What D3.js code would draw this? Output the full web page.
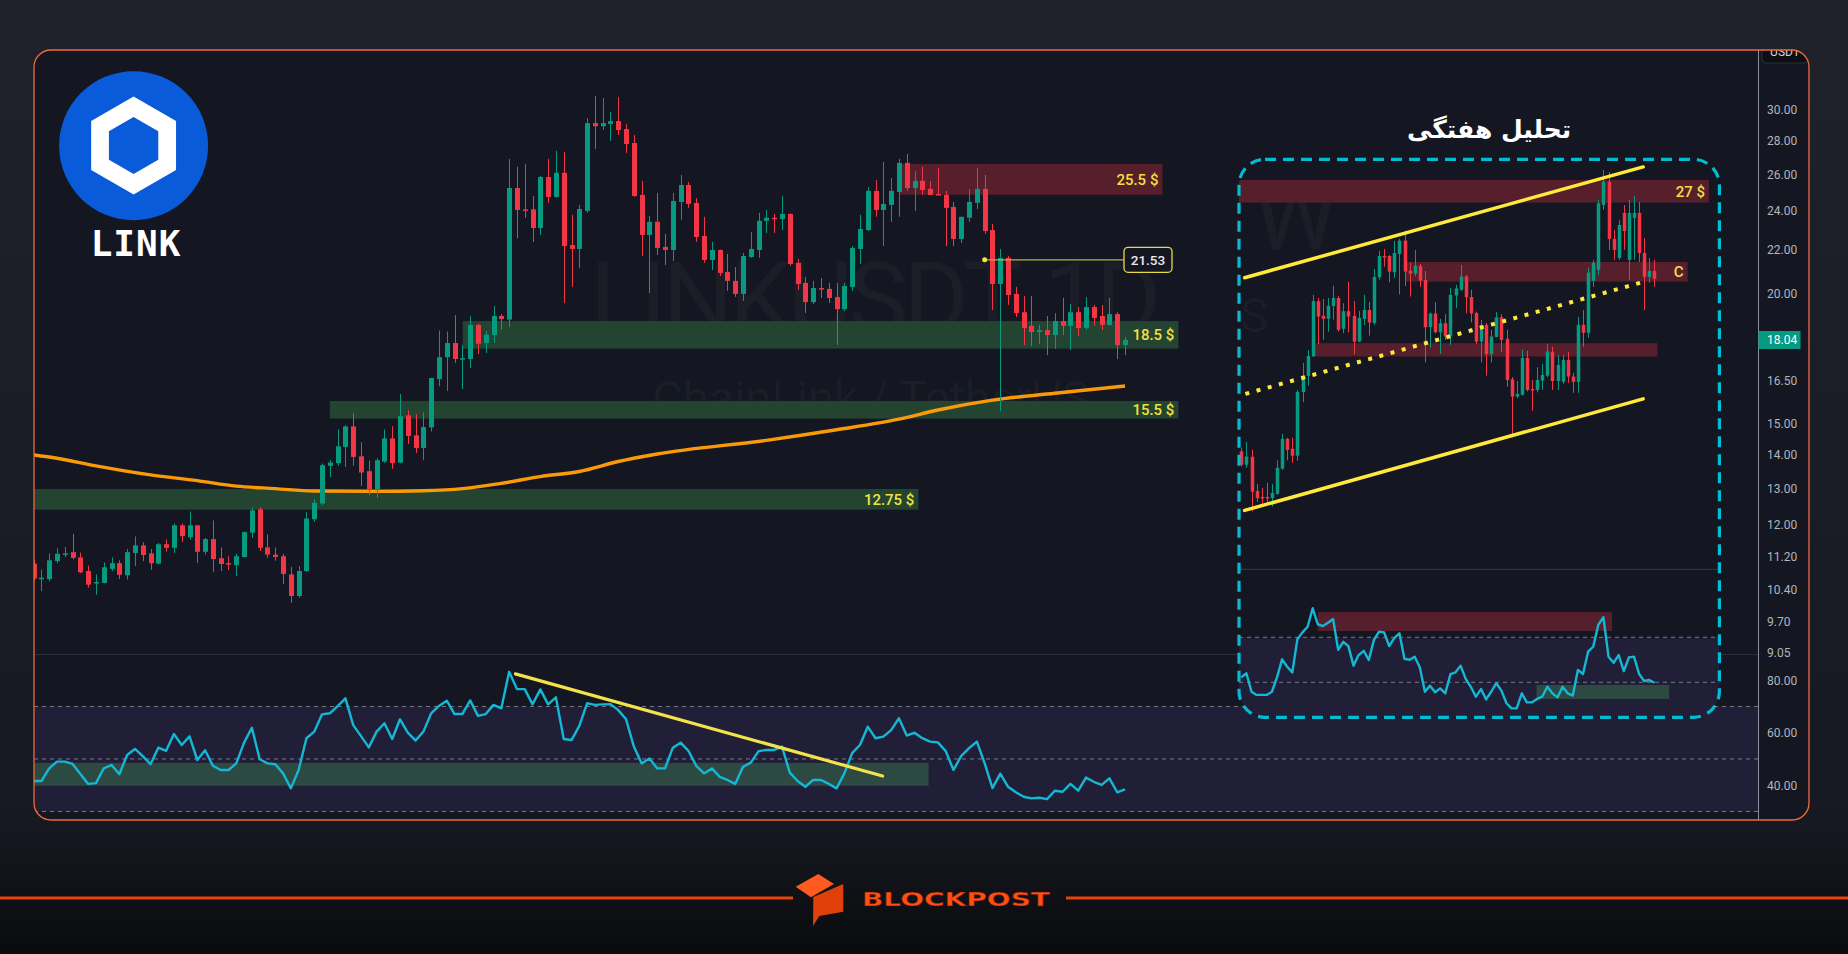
<!DOCTYPE html>
<html>
<head>
<meta charset="utf-8">
<script src="https://cdn.jsdelivr.net/npm/d3@7"></script>
<style>
  html, body { margin: 0; padding: 0; background: #1e2129; overflow: hidden; }
  svg { display: block; }
</style>
</head>
<body>
<div id="chart"></div>
<script>
const W = 1848, H = 954;
const UP = '#089981', DOWN = '#f23645';

// daily candles: [open, high, low, close]
const mainCandles = [
  [11.02,11.10,10.62,10.66],[10.66,10.88,10.37,10.68],[10.65,11.27,10.60,11.10],[11.08,11.40,11.03,11.26],
  [11.24,11.43,11.18,11.27],[11.30,11.77,11.12,11.16],[11.17,11.29,10.79,10.81],[10.84,10.97,10.45,10.52],
  [10.56,10.76,10.29,10.58],[10.56,11.05,10.55,10.93],[10.89,11.17,10.84,11.03],[11.03,11.10,10.65,10.75],
  [10.74,11.38,10.64,11.30],[11.28,11.70,10.96,11.47],[11.47,11.55,11.08,11.23],[11.27,11.38,10.87,11.03],
  [11.02,11.53,11.00,11.50],[11.50,11.62,11.31,11.41],[11.41,12.04,11.28,11.99],[11.99,12.04,11.56,11.71],
  [11.68,12.36,11.62,11.99],[11.99,12.00,11.04,11.31],[11.31,11.66,11.24,11.63],[11.63,12.12,10.82,11.13],
  [11.15,11.42,10.84,11.01],[11.03,11.20,10.86,11.01],[10.98,11.26,10.72,11.20],[11.18,11.83,11.17,11.81],
  [11.80,12.48,11.66,12.39],[12.42,12.48,11.33,11.41],[11.42,11.75,11.16,11.24],[11.24,11.42,11.09,11.18],
  [11.20,11.26,10.53,10.77],[10.76,10.94,10.11,10.26],[10.26,10.96,10.22,10.84],[10.84,12.34,10.82,12.17],
  [12.15,12.70,12.08,12.60],[12.58,13.74,12.54,13.69],[13.67,13.84,13.33,13.77],[13.75,14.82,13.67,14.27],
  [14.25,14.95,13.64,14.91],[14.91,15.35,13.67,13.94],[13.96,14.40,13.08,13.47],[13.51,13.83,12.82,12.98],
  [12.98,13.90,12.74,13.84],[13.80,14.81,13.76,14.52],[14.52,14.92,13.58,13.75],[13.77,16.01,13.75,15.25],
  [15.28,15.45,14.34,14.60],[14.62,15.32,14.06,14.22],[14.22,15.38,13.84,14.89],[14.88,16.60,14.74,16.59],
  [16.55,18.42,16.29,17.37],[17.37,18.38,16.12,17.92],[17.92,19.06,17.15,17.30],[17.29,17.84,16.19,17.33],
  [17.30,19.02,16.96,18.65],[18.65,18.69,17.49,17.89],[17.92,18.40,17.53,18.25],[18.24,19.44,17.92,19.02],
  [19.02,19.10,18.44,18.89],[18.87,26.89,18.57,25.22],[25.22,26.43,22.58,24.03],[24.06,26.60,23.61,24.03],
  [24.06,24.78,22.39,23.09],[23.09,25.90,22.74,25.84],[25.84,26.89,24.41,24.73],[24.73,27.37,24.68,26.08],
  [26.08,27.31,19.57,22.19],[22.24,23.77,20.28,22.05],[22.05,24.30,21.14,24.08],[23.98,29.43,23.88,29.10],
  [29.10,30.89,27.49,28.90],[28.90,30.75,28.66,29.10],[29.04,29.82,27.98,29.23],[29.23,30.82,28.35,28.66],
  [28.72,29.03,27.25,27.79],[27.85,28.35,24.73,24.78],[24.84,25.62,21.71,22.74],[22.74,23.72,20.01,23.41],
  [23.41,24.95,21.76,22.10],[22.15,22.79,21.28,22.00],[22.00,24.95,21.47,24.51],[24.46,25.96,23.51,25.39],
  [25.39,25.56,24.14,24.35],[24.40,24.67,22.39,22.64],[22.69,23.67,21.38,21.52],[21.52,22.39,21.05,22.00],
  [22.00,22.02,20.77,20.91],[20.96,21.81,20.10,20.55],[20.55,21.19,19.84,19.97],[19.97,21.86,19.66,21.71],
  [21.66,22.89,21.62,22.05],[22.00,23.88,21.62,23.46],[23.46,24.03,22.84,23.62],[23.62,23.82,22.84,23.56],
  [23.56,24.78,22.99,23.82],[23.82,23.84,21.24,21.33],[21.38,21.57,20.14,20.41],[20.46,20.73,19.14,19.61],
  [19.61,20.55,19.53,20.23],[20.23,20.68,19.79,20.19],[20.19,20.46,19.57,19.79],[19.83,20.46,17.84,19.31],
  [19.31,20.46,19.23,20.32],[20.28,22.19,20.10,22.10],[22.05,23.77,21.33,23.04],[22.99,25.28,22.94,25.06],
  [25.06,25.67,23.67,24.03],[24.03,26.72,22.19,24.35],[24.30,25.79,23.41,25.06],[25.00,26.89,23.67,26.66],
  [26.66,27.18,25.06,25.22],[25.22,26.19,23.98,25.62],[25.62,26.43,24.84,25.11],[25.17,25.62,24.84,24.84],
  [24.89,26.37,24.84,24.84],[24.84,25.06,22.19,24.14],[24.19,24.46,22.19,22.54],[22.54,23.67,22.34,23.67],
  [23.62,25.17,23.41,24.46],[24.41,26.37,24.08,25.17],[25.17,25.96,22.79,22.94],[22.99,23.30,19.27,20.41],
  [20.41,22.05,15.42,21.62],[21.62,21.71,19.49,19.92],[19.97,20.28,18.98,19.14],[19.18,19.88,17.84,18.52],
  [18.61,19.88,17.80,18.36],[18.36,18.65,17.88,18.44],[18.44,19.02,17.45,18.24],[18.24,19.14,17.69,18.81],
  [18.81,19.79,18.24,18.61],[18.61,19.53,17.65,19.18],[19.18,19.40,18.20,18.52],[18.52,19.83,18.44,19.40],
  [19.40,19.49,18.61,18.94],[19.02,19.49,18.44,18.65],[18.65,19.79,18.61,19.10],[19.10,19.18,17.30,17.84],
  [17.84,18.16,17.45,18.04]
];

// 200 MA read at a few candle positions: [candle index, price]
const maPoints = [[0,14.0],[3,13.9],[8,13.67],[15,13.4],[21,13.23],[26,13.07],[31,13.0],[36,12.93],
  [44,12.92],[50,12.94],[55,13.0],[60,13.15],[65,13.35],[70,13.5],[75,13.8],[80,14.03],[94,14.46],
  [103,14.8],[111,15.15],[116,15.46],[123,15.8],[131,16.04],[140,16.3]];

const mainRsi = [41.6,41.6,46.4,49.0,49.0,48.1,44.3,40.5,40.8,46.4,47.7,44.2,51.5,53.8,51.1,48.0,54.3,53.1,
  59.5,55.3,58.6,49.6,53.3,47.4,45.8,45.8,48.3,56.2,61.9,49.9,48.3,48.0,44.5,38.8,45.8,57.9,60.4,67.0,67.4,
  70.1,73.1,62.9,58.7,54.4,60.4,63.6,57.6,65.1,60.0,57.0,60.4,67.4,70.2,72.2,67.1,67.1,72.3,66.4,67.1,70.6,
  69.3,83.2,76.6,76.6,70.8,76.5,70.8,73.5,57.6,57.2,62.6,71.2,70.6,70.8,70.9,68.6,65.1,54.7,48.3,50.2,46.4,
  46.4,54.3,56.2,53.1,47.4,44.5,46.4,43.2,42.0,40.5,47.0,48.6,53.0,53.4,53.4,54.7,44.8,41.6,39.4,42.0,42.0,
  40.5,38.8,44.5,52.2,55.3,62.3,57.9,58.5,61.0,65.5,58.9,60.0,57.9,56.6,56.3,53.0,45.8,51.2,54.1,56.6,48.3,
  38.9,44.4,39.4,37.3,35.6,35.0,35.2,34.7,37.9,37.5,40.5,37.9,42.9,41.3,40.1,42.6,37.3,38.4];

const mainZones = [
  { label: '25.5 $', hi: 26.59, lo: 24.85, from: 111.1, to: 144.8, kind: 'res' },
  { label: '18.5 $', hi: 18.81, lo: 17.70, from: 55.05, to: 146.85, kind: 'sup' },
  { label: '15.5 $', hi: 15.77, lo: 15.17, from: 38.0, to: 146.85, kind: 'sup' },
  { label: '12.75 $', hi: 12.99, lo: 12.41, from: 0, to: 113.5, kind: 'sup' }
];
const priceMark = { from: 122, price: 21.53 };
const lastPrice = 18.04;
const priceTicks = [30, 28, 26, 24, 22, 20, 16.5, 15, 14, 13, 12, 11.2, 10.4, 9.7, 9.05];
const rsiTicks = [80, 60, 40];
const rsiLevels = [70, 50, 30];
const rsiZone = { hi: 48.5, lo: 39.8, from: 0, to: 114.8 };
const rsiTrend = [[61.8, 82.4], [108.9, 43.5]];

// weekly inset
const insetCandles = [
  [11.97,12.11,11.42,11.48],[11.48,12.33,11.37,11.78],[11.77,12.03,9.92,10.55],[10.57,10.81,10.22,10.34],
  [10.38,10.68,10.07,10.35],[10.38,10.85,10.12,10.35],[10.34,10.81,10.07,10.51],[10.48,11.64,10.45,11.37],
  [11.34,12.64,11.30,12.45],[12.45,12.49,11.64,12.03],[12.07,12.49,11.55,11.81],[11.81,14.51,11.62,14.42],
  [14.41,15.79,13.96,15.17],[15.16,16.45,14.71,16.14],[16.12,19.54,16.09,19.16],[19.16,19.35,16.74,18.26],
  [18.30,19.29,16.97,18.13],[18.13,19.35,17.41,18.89],[18.87,20.10,18.07,19.35],[19.35,19.48,17.41,17.51],
  [17.57,19.04,17.33,18.57],[18.57,20.35,17.37,18.26],[18.30,19.17,16.22,16.88],[16.88,18.58,16.85,18.18],
  [18.13,19.54,17.78,18.64],[18.64,19.12,17.20,17.92],[17.89,21.19,17.79,20.67],[20.65,22.42,20.48,22.07],
  [22.07,22.56,21.35,22.00],[22.07,22.14,20.33,21.02],[20.98,23.14,20.61,22.28],[22.21,23.28,19.57,23.16],
  [23.16,23.88,20.09,21.02],[21.08,21.61,19.44,20.89],[20.89,22.49,20.72,21.42],[21.40,21.53,20.04,20.43],
  [20.48,21.06,15.82,17.66],[17.66,18.49,16.56,18.43],[18.43,19.10,17.33,17.38],[17.38,18.13,16.24,17.88],
  [17.88,18.39,16.97,17.16],[17.16,19.97,16.71,19.54],[19.50,20.16,18.74,19.94],[19.85,21.46,19.79,20.70],
  [20.70,20.80,18.43,19.39],[19.41,19.85,17.93,18.44],[18.46,18.54,16.74,16.88],[16.88,18.07,15.82,17.79],
  [17.79,17.89,15.17,16.23],[16.23,17.51,15.82,17.15],[17.13,18.51,17.11,18.22],[18.22,18.39,16.34,16.97],
  [17.03,17.51,14.66,14.97],[15.00,15.11,12.51,14.21],[14.21,14.92,14.14,14.33],[14.29,16.45,14.25,16.04],
  [16.04,16.40,14.44,14.51],[14.55,14.97,13.59,14.51],[14.51,15.58,14.40,14.97],[14.94,15.74,14.51,15.21],
  [15.17,16.76,15.10,16.37],[16.35,16.61,14.51,14.92],[14.92,16.19,14.51,15.69],[14.88,16.19,14.79,15.94],
  [15.94,16.35,14.83,15.13],[15.13,15.31,14.38,14.88],[14.88,18.24,14.38,17.79],[17.79,18.64,16.61,17.35],
  [17.35,21.29,17.08,20.95],[20.42,21.80,20.04,21.61],[21.13,26.30,20.80,26.04],[25.89,28.89,25.49,27.84],
  [27.84,28.71,22.49,23.28],[23.28,23.94,21.80,22.49],[21.94,24.71,21.80,24.32],[25.26,25.89,22.49,23.86],
  [21.80,26.30,20.48,25.26],[24.87,26.64,21.80,25.26],[25.26,26.14,21.66,22.28],[22.28,23.35,18.64,20.67],
  [20.67,21.94,20.29,21.06],[21.06,21.80,20.04,20.55]
];
const insetRsi = [52.2,54.0,45.8,44.4,44.4,44.4,45.8,52.2,60.2,56.9,54.4,69.2,72.2,74.7,82.9,75.8,75.0,76.5,
  78.1,64.4,68.0,66.1,57.4,62.1,64.0,59.9,68.8,72.5,72.2,66.1,69.6,71.8,60.4,60.0,61.4,56.7,45.8,48.5,45.6,
  47.3,45.1,53.6,54.4,57.4,51.5,48.0,43.6,47.0,42.4,45.8,49.6,46.3,40.7,38.4,38.4,45.1,41.1,41.1,42.6,43.6,
  48.0,45.1,43.3,48.0,45.1,44.1,55.5,53.7,63.6,65.8,75.5,78.9,61.4,58.7,62.1,55.0,61.1,61.4,53.7,50.6,51.0,49.8];
const insetZones = [
  { label: '27 $', hi: 28.0, lo: 26.09, from: -0.45, to: 91.7 },
  { label: 'C', hi: 21.66, lo: 20.37, from: 32.1, to: 87.5 },
  { label: '', hi: 16.80, lo: 16.11, from: 14.0, to: 81.6 }
];
const insetChannel = {
  upper: [[0.65, 20.62], [78.8, 29.17]],
  lower: [[0.65, 9.95], [78.8, 14.11]],
  middle: [[0.8, 14.33], [78.6, 20.33]]
};
const insetRsiZones = [
  { hi: 81.2, lo: 72.8, from: 15.0, to: 72.7, kind: 'res' },
  { hi: 48.8, lo: 42.6, from: 57.9, to: 83.9, kind: 'sup' }
];
const insetTitle = 'تحلیل هفتگی';

// ---------- drawing ----------
const svg = d3.select('#chart').append('svg').attr('width', W).attr('height', H);
const defs = svg.append('defs');

const bgGrad = defs.append('linearGradient').attr('id', 'bgGrad')
  .attr('x1', 0).attr('y1', 0).attr('x2', 0).attr('y2', 1);
bgGrad.append('stop').attr('offset', '0%').attr('stop-color', '#1f222b');
bgGrad.append('stop').attr('offset', '86%').attr('stop-color', '#161921');
bgGrad.append('stop').attr('offset', '100%').attr('stop-color', '#0a0b0d');
svg.append('rect').attr('width', W).attr('height', H).attr('fill', 'url(#bgGrad)');

const frame = { x: 34, y: 50, w: 1775, h: 770, r: 17 };
defs.append('clipPath').attr('id', 'frameClip').append('rect')
  .attr('x', frame.x).attr('y', frame.y).attr('width', frame.w).attr('height', frame.h).attr('rx', frame.r);
svg.append('rect')
  .attr('x', frame.x).attr('y', frame.y).attr('width', frame.w).attr('height', frame.h).attr('rx', frame.r)
  .attr('fill', '#141721');

const root = svg.append('g').attr('clip-path', 'url(#frameClip)');

const axisX = 1758.5;
const x = d3.scaleLinear().domain([0, 140]).range([33.6, 1125]);
const y = d3.scaleLog().domain([30, 9.05]).range([109.3, 652.9]);
const rsiY = d3.scaleLinear().domain([40, 80]).range([785.2, 680.2]);

// watermark
root.append('text').attr('x', 590).attr('y', 333).attr('textLength', 571)
  .attr('font-family', 'Roboto, sans-serif').attr('font-size', 100)
  .attr('fill', '#ffffff').attr('fill-opacity', 0.03).text('LINKUSDT, 1D');
root.append('text').attr('x', 652).attr('y', 415).attr('textLength', 438)
  .attr('font-family', 'Roboto, sans-serif').attr('font-size', 48)
  .attr('fill', '#ffffff').attr('fill-opacity', 0.03).text('ChainLink / TetherUS');

// zones
const zoneG = root.append('g');
zoneG.selectAll('rect').data(mainZones).join('rect')
  .attr('x', d => x(d.from)).attr('width', d => x(d.to) - x(d.from))
  .attr('y', d => y(d.hi)).attr('height', d => y(d.lo) - y(d.hi))
  .attr('fill', d => d.kind === 'res' ? '#561f2b' : '#234430');

// moving average
root.append('path').datum(maPoints)
  .attr('d', d3.line().x(d => x(d[0])).y(d => y(d[1])).curve(d3.curveMonotoneX))
  .attr('fill', 'none').attr('stroke', '#fb9a08').attr('stroke-width', 3.4);

function drawCandles(g, data, xs, ys, bodyW) {
  const c = g.selectAll('g').data(data).join('g');
  const col = d => d[3] >= d[0] ? UP : DOWN;
  c.append('line')
    .attr('x1', (d, i) => Math.round(xs(i)) + 0.5).attr('x2', (d, i) => Math.round(xs(i)) + 0.5)
    .attr('y1', d => ys(d[1])).attr('y2', d => ys(d[2]))
    .attr('stroke', col).attr('stroke-width', 1);
  c.append('rect')
    .attr('x', (d, i) => Math.round(xs(i)) + 0.5 - bodyW / 2).attr('width', bodyW)
    .attr('y', d => ys(Math.max(d[0], d[3])))
    .attr('height', d => Math.max(1.5, Math.abs(ys(d[0]) - ys(d[3]))))
    .attr('fill', col);
}
drawCandles(root.append('g'), mainCandles, x, y, 5);

// 21.53 marker
const markY = y(priceMark.price);
root.append('line').attr('x1', x(priceMark.from)).attr('x2', 1124).attr('y1', markY).attr('y2', markY)
  .attr('stroke', '#b9b23a').attr('stroke-width', 1.2);
root.append('circle').attr('cx', x(priceMark.from)).attr('cy', markY).attr('r', 2.5).attr('fill', '#f5e63c');
root.append('rect').attr('x', 1124).attr('y', markY - 12.5).attr('width', 48).attr('height', 25).attr('rx', 4)
  .attr('fill', '#141721').attr('stroke', '#e8d94a').attr('stroke-width', 1.3);
root.append('text').attr('x', 1148).attr('y', markY).attr('dy', '0.35em').attr('text-anchor', 'middle')
  .attr('font-family', 'Roboto, sans-serif').attr('font-size', 13.5).attr('font-weight', 500)
  .attr('fill', '#e8eaee').text(priceMark.price.toFixed(2));

// zone labels
zoneG.selectAll('text').data(mainZones).join('text')
  .attr('x', d => x(d.to) - 4).attr('y', d => (y(d.hi) + y(d.lo)) / 2).attr('dy', '0.36em')
  .attr('text-anchor', 'end').attr('font-family', 'Roboto, sans-serif').attr('font-size', 15)
  .attr('font-weight', 500).attr('fill', '#f4e03e').text(d => d.label);

// RSI pane
const paneTop = 654.5;
root.append('line').attr('x1', frame.x).attr('x2', axisX).attr('y1', paneTop).attr('y2', paneTop)
  .attr('stroke', '#2b2f3a').attr('stroke-width', 1);
root.append('rect').attr('x', frame.x).attr('width', axisX - frame.x)
  .attr('y', rsiY(70)).attr('height', rsiY(30) - rsiY(70)).attr('fill', '#211f37');
root.selectAll('.rsiLevel').data(rsiLevels).join('line').attr('class', 'rsiLevel')
  .attr('x1', frame.x).attr('x2', axisX).attr('y1', d => rsiY(d)).attr('y2', d => rsiY(d))
  .attr('stroke', '#787b86').attr('stroke-dasharray', '4 4').attr('stroke-width', 1);
root.append('rect').attr('x', x(rsiZone.from)).attr('width', x(rsiZone.to) - x(rsiZone.from))
  .attr('y', rsiY(rsiZone.hi)).attr('height', rsiY(rsiZone.lo) - rsiY(rsiZone.hi)).attr('fill', '#2c4a42');
root.append('path').datum(mainRsi)
  .attr('d', d3.line().x((d, i) => x(i)).y(d => rsiY(d)))
  .attr('fill', 'none').attr('stroke', '#14b8d4').attr('stroke-width', 2.4).attr('stroke-linejoin', 'round');
root.append('line')
  .attr('x1', x(rsiTrend[0][0])).attr('y1', rsiY(rsiTrend[0][1]))
  .attr('x2', x(rsiTrend[1][0])).attr('y2', rsiY(rsiTrend[1][1]))
  .attr('stroke', '#f5e24a').attr('stroke-width', 3.2).attr('stroke-linecap', 'round');

// price axis
root.append('line').attr('x1', axisX).attr('x2', axisX).attr('y1', frame.y).attr('y2', frame.y + frame.h)
  .attr('stroke', '#8c8f99').attr('stroke-width', 1);
const axisG = root.append('g').attr('font-family', 'Roboto, sans-serif').attr('font-size', 12).attr('fill', '#b2b5be');
axisG.selectAll('.pt').data(priceTicks).join('text').attr('class', 'pt')
  .attr('x', 1767).attr('y', d => y(d)).attr('dy', '0.36em').text(d => d.toFixed(2));
axisG.selectAll('.rt').data(rsiTicks).join('text').attr('class', 'rt')
  .attr('x', 1767).attr('y', d => rsiY(d)).attr('dy', '0.36em').text(d => d.toFixed(2));
root.append('rect').attr('x', axisX).attr('y', y(lastPrice) - 9).attr('width', 42).attr('height', 18)
  .attr('fill', UP);
root.append('text').attr('x', 1767).attr('y', y(lastPrice)).attr('dy', '0.36em')
  .attr('font-family', 'Roboto, sans-serif').attr('font-size', 12).attr('fill', '#ffffff').text(lastPrice.toFixed(2));
root.append('rect').attr('x', 1762).attr('y', 38).attr('width', 46).attr('height', 25).attr('rx', 4)
  .attr('fill', '#0d0e12').attr('stroke', '#2a2e39');
root.append('text').attr('x', 1785).attr('y', 55.5).attr('text-anchor', 'middle')
  .attr('font-family', 'Roboto, sans-serif').attr('font-size', 12).attr('fill', '#d1d4dc').text('USDT');

// LINK logo
const logo = root.append('g');
logo.append('circle').attr('cx', 133.6).attr('cy', 145.7).attr('r', 74.5).attr('fill', '#0a5bd9');
function hexPath(cx, cy, r) {
  return d3.range(6).map(k => {
    const a = Math.PI / 2 + k * Math.PI / 3;
    return [cx + r * Math.cos(a), cy - r * Math.sin(a)];
  }).map((p, k) => (k ? 'L' : 'M') + p[0].toFixed(2) + ',' + p[1].toFixed(2)).join('') + 'Z';
}
logo.append('path').attr('d', hexPath(133.6, 145.5, 49) + hexPath(133.6, 145.5, 28.5))
  .attr('fill', '#ffffff').attr('fill-rule', 'evenodd');
logo.append('text').attr('x', 136).attr('y', 256).attr('text-anchor', 'middle')
  .attr('font-family', "'DejaVu Sans Mono', monospace").attr('font-weight', 'bold').attr('font-size', 36)
  .attr('letter-spacing', 1).attr('fill', '#ffffff').text('LINK');

// ---------- weekly inset ----------
const box = { x: 1239, y: 159.3, w: 480.4, h: 558, r: 26 };
defs.append('clipPath').attr('id', 'insetClip').append('rect')
  .attr('x', box.x).attr('y', box.y).attr('width', box.w).attr('height', box.h).attr('rx', box.r);
const inset = root.append('g');
inset.append('rect').attr('x', box.x).attr('y', box.y).attr('width', box.w).attr('height', box.h).attr('rx', box.r)
  .attr('fill', '#141721');
const ig = inset.append('g').attr('clip-path', 'url(#insetClip)');
const ix = d3.scaleLinear().domain([0, 81]).range([1241.3, 1654.4]);
const iy = d3.scaleLog().domain([28.0, 10.28]).range([180, 500]);
const irsiY = d3.scaleLinear().domain([50, 70]).range([682.3, 637.3]);

ig.append('text').attr('x', 1253).attr('y', 250).attr('font-family', 'Roboto, sans-serif').attr('font-size', 96)
  .attr('fill', '#ffffff').attr('fill-opacity', 0.03).text('W');
ig.append('text').attr('x', 1240).attr('y', 332).attr('font-family', 'Roboto, sans-serif').attr('font-size', 48)
  .attr('fill', '#ffffff').attr('fill-opacity', 0.03).text('S');

ig.selectAll('.iz').data(insetZones).join('rect').attr('class', 'iz')
  .attr('x', d => ix(d.from)).attr('width', d => ix(d.to) - ix(d.from))
  .attr('y', d => iy(d.hi)).attr('height', d => iy(d.lo) - iy(d.hi)).attr('fill', '#561f2b');
drawCandles(ig.append('g'), insetCandles, ix, iy, 3.5);
ig.selectAll('.izl').data(insetZones.filter(d => d.label)).join('text').attr('class', 'izl')
  .attr('x', d => ix(d.to) - 4).attr('y', d => (iy(d.hi) + iy(d.lo)) / 2).attr('dy', '0.36em')
  .attr('text-anchor', 'end').attr('font-family', 'Roboto, sans-serif').attr('font-size', 15)
  .attr('font-weight', 500).attr('fill', '#f4e03e').text(d => d.label);

const chLine = d3.line().x(d => ix(d[0])).y(d => iy(d[1]));
ig.append('path').attr('d', chLine(insetChannel.upper)).attr('stroke', '#ffe93b').attr('stroke-width', 3.5)
  .attr('stroke-linecap', 'round').attr('fill', 'none');
ig.append('path').attr('d', chLine(insetChannel.lower)).attr('stroke', '#ffe93b').attr('stroke-width', 3.5)
  .attr('stroke-linecap', 'round').attr('fill', 'none');
ig.append('path').attr('d', chLine(insetChannel.middle)).attr('stroke', '#ffe93b').attr('stroke-width', 4)
  .attr('stroke-dasharray', '4 7.6').attr('fill', 'none');

// inset RSI
ig.append('line').attr('x1', box.x).attr('x2', box.x + box.w).attr('y1', 569.3).attr('y2', 569.3)
  .attr('stroke', '#363a45').attr('stroke-width', 1);
ig.append('rect').attr('x', box.x).attr('width', box.w).attr('y', irsiY(70)).attr('height', box.y + box.h - irsiY(70))
  .attr('fill', '#211f37');
ig.selectAll('.irl').data([70, 50]).join('line').attr('class', 'irl')
  .attr('x1', box.x).attr('x2', box.x + box.w).attr('y1', d => irsiY(d)).attr('y2', d => irsiY(d))
  .attr('stroke', '#787b86').attr('stroke-dasharray', '4 4');
ig.selectAll('.irz').data(insetRsiZones).join('rect').attr('class', 'irz')
  .attr('x', d => ix(d.from)).attr('width', d => ix(d.to) - ix(d.from))
  .attr('y', d => irsiY(d.hi)).attr('height', d => irsiY(d.lo) - irsiY(d.hi))
  .attr('fill', d => d.kind === 'res' ? '#561f2e' : '#2c4a42');
ig.append('path').datum(insetRsi)
  .attr('d', d3.line().x((d, i) => ix(i)).y(d => irsiY(d)))
  .attr('fill', 'none').attr('stroke', '#14b8d4').attr('stroke-width', 2.4).attr('stroke-linejoin', 'round');

inset.append('rect').attr('x', box.x).attr('y', box.y).attr('width', box.w).attr('height', box.h).attr('rx', box.r)
  .attr('fill', 'none').attr('stroke', '#00bcd4').attr('stroke-width', 3.2).attr('stroke-dasharray', '11 7');

inset.append('text').attr('x', 1489).attr('y', 138).attr('text-anchor', 'middle')
  .attr('font-family', "'DejaVu Sans', sans-serif").attr('font-weight', 'bold').attr('font-size', 25)
  .attr('fill', '#ffffff').text(insetTitle);

// frame border on top
svg.append('rect')
  .attr('x', frame.x).attr('y', frame.y).attr('width', frame.w).attr('height', frame.h).attr('rx', frame.r)
  .attr('fill', 'none').attr('stroke', '#f06a3a').attr('stroke-width', 1.3);

// ---------- branding ----------
const brand = svg.append('g');
brand.append('line').attr('x1', 0).attr('x2', 793).attr('y1', 898).attr('y2', 898)
  .attr('stroke', '#e8420c').attr('stroke-width', 3);
brand.append('line').attr('x1', 1066).attr('x2', W).attr('y1', 898).attr('y2', 898)
  .attr('stroke', '#e8420c').attr('stroke-width', 3);
brand.append('polygon').attr('points', '795.7,886.7 818.3,874 834,884 811,897.3').attr('fill', '#ff5a1f');
brand.append('polygon').attr('points', '813.3,897 843.3,884 843.3,911.7 819.3,916 813,926 813.3,905')
  .attr('fill', '#e0400a');
brand.append('text').attr('x', 862).attr('y', 906).attr('textLength', 188).attr('lengthAdjust', 'spacingAndGlyphs')
  .attr('font-family', "'DejaVu Sans', sans-serif").attr('font-weight', 'bold').attr('font-size', 20)
  .attr('fill', '#ff4d14').attr('stroke', '#3a1005').attr('stroke-width', 0.4).text('BLOCKPOST');
</script>
</body>
</html>
